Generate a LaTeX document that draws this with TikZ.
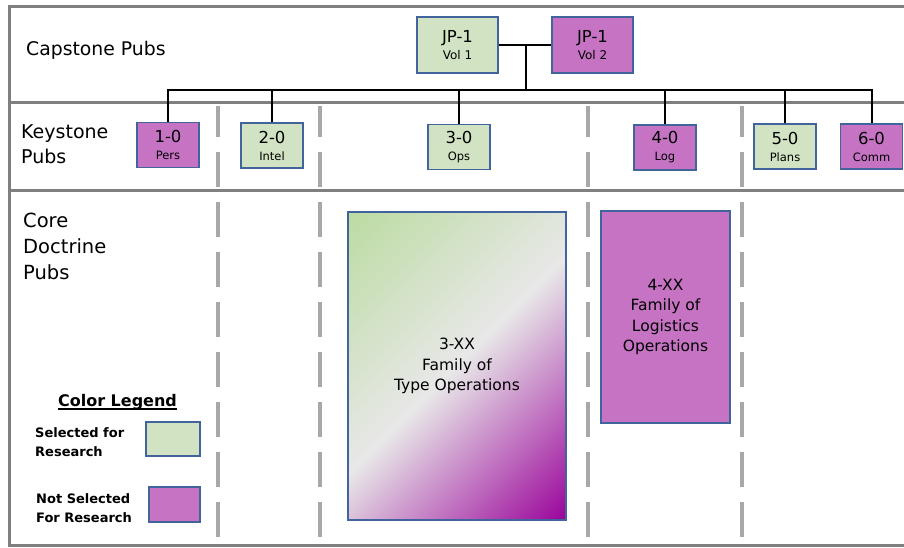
\documentclass[tikz,border=0pt]{standalone}
\usepackage{fontspec}
\setmainfont{DejaVu Sans}
\usetikzlibrary{calc}
\definecolor{selg}{HTML}{D1E3C3}
\definecolor{nselp}{HTML}{C673C4}
\definecolor{bblue}{HTML}{41649C}
\definecolor{frameg}{HTML}{7F7F7F}
\definecolor{dashg}{HTML}{A8A8A8}
\definecolor{shg}{HTML}{BBDBA0}
\definecolor{shm}{HTML}{E8E8E8}
\definecolor{shp}{HTML}{990099}
\pgfdeclarehorizontalshading{famshade}{100bp}{color(0bp)=(shg); color(14bp)=(shg); color(50bp)=(shm); color(86bp)=(shp); color(100bp)=(shp)}
\newcommand\fsz[2]{\fontsize{#1}{#2}\selectfont}
\begin{document}
\begin{tikzpicture}[x=1pt,y=-1pt,
  framel/.style={draw=frameg,line width=3pt},
  sepdash/.style={draw=dashg,line width=4pt},
  pubbox/.style={draw=bblue,line width=1.3pt,align=center,inner sep=0pt},
  keybox/.style={pubbox,minimum width=62pt,minimum height=45pt,font=\fsz{16.5}{17}},
  capbox/.style={pubbox,minimum width=81pt,minimum height=56pt,font=\fsz{16.5}{16.5}},
  selfill/.style={fill=selg},
  nselfill/.style={fill=nselp},
  conn/.style={draw=black,line width=2pt},
  rowlabel/.style={font=\fsz{19}{25},align=left,inner sep=0pt,anchor=north west},
  legtext/.style={font=\bfseries\fsz{13}{19},align=left,inner sep=0pt,anchor=north west}
]
\useasboundingbox (0,0) rectangle (904,548);

% frame and row separators
\draw[framel] (906,6.5) -- (9.5,6.5) -- (9.5,545) -- (906,545);
\draw[framel] (9.5,103) -- (906,103);
\draw[framel] (9.5,190.5) -- (906,190.5);

% dashed column separators
\foreach \xx in {218,320,588,742}{
  \draw[sepdash,dash pattern=on 31pt off 15pt on 60pt off 0pt] (\xx,106) -- (\xx,187);
  \draw[sepdash,dash pattern=on 35pt off 15pt] (\xx,202) -- (\xx,537);
}

% row labels
\node[inner sep=0pt,anchor=base west,font=\fsz{18.8}{20}] (lcap) at (26,56) {Capstone Pubs};
\node[rowlabel] (lkey) at (21,124) {Keystone\\Pubs};
\node[rowlabel,font=\fsz{19.5}{26}] (lcore) at (23,212.7) {Core\\Doctrine\\Pubs};

% capstone
\node[capbox,selfill] (v1) at (457.5,45) {JP-1\\{\fsz{12}{16.5}Vol 1}};
\node[capbox,nselfill] (v2) at (592.5,45) {JP-1\\{\fsz{12}{16.5}Vol 2}};

% keystone
\node[keybox,nselfill] (k1) at (168,145) {1-0\\{\fsz{11.5}{17}Pers}};
\node[keybox,selfill] (k2) at (272,145.5) {2-0\\{\fsz{11.5}{17}Intel}};
\node[keybox,selfill] (k3) at (459,147) {3-0\\{\fsz{11.5}{17}Ops}};
\node[keybox,nselfill] (k4) at (665,147.5) {4-0\\{\fsz{11.5}{17}Log}};
\node[keybox,selfill] (k5) at (785,146.5) {5-0\\{\fsz{11.5}{17}Plans}};
\node[keybox,nselfill] (k6) at (871.5,146.5) {6-0\\{\fsz{11.5}{17}Comm}};

% connectors
\coordinate (jn) at (526,45);
\coordinate (bus) at (526,90.5);
\draw[conn] (v1.east) -- (v2.west);
\draw[conn] (jn) -- (bus);
\draw[conn] (k1.north) |- (bus) -| (k6.north);
\foreach \kk in {k2,k3,k4,k5}{
  \draw[conn] (\kk.north) -- (\kk.north |- bus);
}

% core doctrine
\node[pubbox,shade,shading=famshade,shading angle=-45,minimum width=218pt,minimum height=308pt,font=\fsz{15.5}{20.5}] (f3) at (457,366) {3-XX\\Family of\\Type Operations};
\node[pubbox,nselfill,minimum width=129pt,minimum height=212pt,font=\fsz{15.5}{20.5}] (f4) at (665.5,317) {4-XX\\Family of\\Logistics\\Operations};

% legend
\node[inner sep=0pt,anchor=base,font=\bfseries\fsz{16}{19}] (lg) at (117.5,406) {Color Legend};
\draw[line width=1.1pt] ($(lg.base west)+(0,3)$) -- ($(lg.base east)+(0,3)$);
\node[legtext] (ls) at (35,427.5) {Selected for\\Research};
\node[legtext] (ln) at (36,493.5) {Not Selected\\For Research};
\node[pubbox,selfill,minimum width=54pt,minimum height=34pt] (lbs) at (173,439) {};
\node[pubbox,nselfill,minimum width=51pt,minimum height=35pt] (lbn) at (174.5,504.5) {};
\end{tikzpicture}
\end{document}
